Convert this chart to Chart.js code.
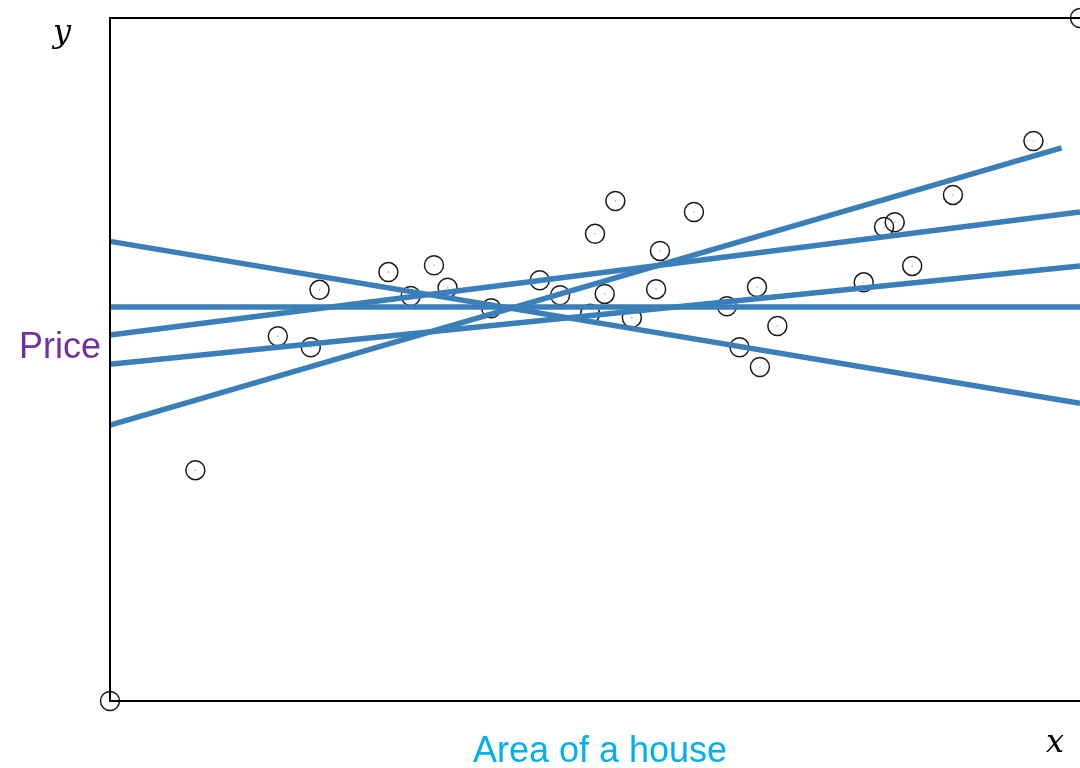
<!DOCTYPE html>
<html>
<head>
<meta charset="utf-8">
<script src="https://cdn.jsdelivr.net/npm/chart.js@4"></script>
<style>
  html, body { margin: 0; padding: 0; background: #fff; }
  #wrap { width: 1080px; height: 768px; }
</style>
</head>
<body>
<div id="wrap"><canvas id="myChart" width="1080" height="768"></canvas></div>
<script>
// house samples: area (x) vs price (y), both on a 0..100 scale
var areaValues = [0, 100, 8.8, 17.3, 20.7, 21.6, 28.7, 31.0, 33.4, 34.8, 39.3, 44.3, 46.4, 49.5, 50.0, 51.0,
                  52.1, 53.8, 56.3, 56.7, 60.2, 63.6, 64.9, 66.7, 67.0, 68.8, 77.7, 79.8, 80.9, 82.7, 86.9, 95.2];
var priceValues = [0, 100, 33.8, 53.4, 51.8, 60.2, 62.8, 59.3, 63.8, 60.5, 57.5, 61.6, 59.4, 56.7, 68.4, 59.6,
                   73.2, 56.1, 60.3, 65.9, 71.6, 57.8, 51.8, 60.6, 48.9, 54.9, 61.3, 69.4, 70.1, 63.7, 74.1, 82.0];

// candidate fit lines: start / end x and y
var lineStartX = [0, 0, 0, 0, 0];
var lineEndX   = [100, 100, 100, 100, 98.1];
var lineStartY = [57.7, 67.3, 53.6, 49.3, 40.4];
var lineEndY   = [57.7, 43.6, 71.6, 63.7, 81.0];

var xLabel = "Area of a house";
var yLabel = "Price";

var points = areaValues.map((v, i) => ({ x: v, y: priceValues[i] }));

var datasets = [];
for (let i = 0; i < lineStartX.length; i++) {
  datasets.push({
    type: "line",
    data: [{ x: lineStartX[i], y: lineStartY[i] }, { x: lineEndX[i], y: lineEndY[i] }],
    borderColor: "#3A7EBA",
    borderWidth: 5.5,
    pointRadius: 0,
    fill: false,
    clip: false
  });
}
// circles
datasets.push({
  data: points,
  pointRadius: 9.5,
  pointBorderWidth: 1.5,
  pointBorderColor: "#1a1a1a",
  pointBackgroundColor: "rgba(0,0,0,0)",
  clip: false
});
// tiny centre dots
datasets.push({
  data: points,
  pointRadius: 0.8,
  pointBorderWidth: 0,
  pointBackgroundColor: "#aaa",
  clip: false
});

const axesPlugin = {
  id: "axesPlugin",
  afterDraw(chart) {
    const ctx = chart.ctx;
    const a = chart.chartArea;
    ctx.save();
    ctx.strokeStyle = "#000";
    ctx.lineWidth = 2;
    ctx.beginPath();
    ctx.moveTo(chart.width, a.top);
    ctx.lineTo(a.left, a.top);
    ctx.lineTo(a.left, a.bottom);
    ctx.lineTo(chart.width, a.bottom);
    ctx.stroke();

    ctx.font = "36px Arial, 'Liberation Sans', sans-serif";
    ctx.textBaseline = "alphabetic";
    ctx.fillStyle = "#7030A0";
    ctx.textAlign = "right";
    ctx.fillText(yLabel, a.left - 9, a.top + 340);
    ctx.fillStyle = "#00B0F0";
    ctx.textAlign = "center";
    ctx.fillText(xLabel, 600, a.bottom + 61);

    ctx.fillStyle = "#000";
    ctx.font = "italic 32px 'DejaVu Serif', serif";
    ctx.textAlign = "center";
    ctx.fillText("y", 62, 42);
    ctx.fillText("x", 1055, 752);
    ctx.restore();
  }
};

new Chart("myChart", {
  type: "scatter",
  data: { datasets: datasets },
  options: {
    responsive: false,
    animation: false,
    layout: { autoPadding: false, padding: { left: 110, top: 18, right: 0, bottom: 67 } },
    plugins: { legend: { display: false }, tooltip: { enabled: false } },
    scales: {
      x: { display: false, min: 0, max: 100 },
      y: { display: false, min: 0, max: 100 }
    }
  },
  plugins: [axesPlugin]
});
</script>
</body>
</html>
